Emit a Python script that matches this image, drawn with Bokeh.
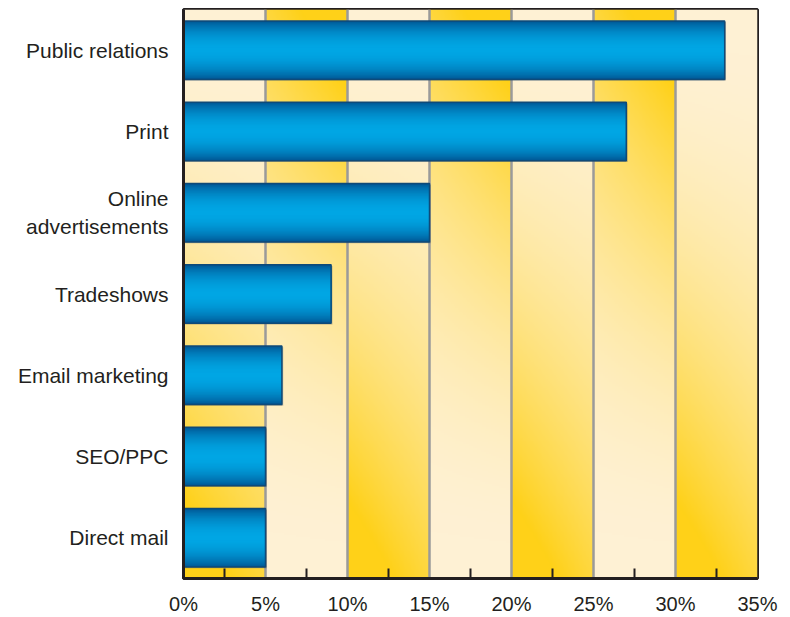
import numpy as np
from bokeh.plotting import figure
from bokeh.models import FactorRange, Range1d, FixedTicker, ColumnDataSource
from bokeh.transform import dodge
from bokeh.embed import file_html
from bokeh.resources import INLINE

# ---- data ----
categories = ["Public relations", "Print", "Online\nadvertisements", "Tradeshows",
              "Email marketing", "SEO/PPC", "Direct mail"]
values = [33, 27, 15, 9, 6, 5, 5]
x_ticks = [0, 5, 10, 15, 20, 25, 30, 35]
x_tick_labels = ["0%", "5%", "10%", "15%", "20%", "25%", "30%", "35%"]
minor_ticks = [2.5, 7.5, 12.5, 17.5, 22.5, 27.5, 32.5]

factors = list(reversed(categories))
XMAX = 35

p = figure(width=790, height=617, output_backend="svg", toolbar_location=None,
           y_range=FactorRange(factors=factors, range_padding=0),
           x_range=Range1d(0, XMAX),
           min_border_left=183, min_border_right=33, min_border_top=9, min_border_bottom=37)
p.background_fill_color = "white"
p.border_fill_color = "white"
p.outline_line_color = "#231f20"
p.outline_line_width = 3

# ---- background gradient (style) ----
band_px = 60
H = 300
W = band_px * 7
img = np.zeros((H, W), dtype=np.uint32)
view = img.view(dtype=np.uint8).reshape((H, W, 4))
cream = np.array([254, 241, 212], dtype=float)
yellow = np.array([255, 209, 24], dtype=float)
vv = (np.arange(H) + 0.5) / H          # 0 bottom, 1 top
for k in range(7):
    u = (np.arange(band_px) + 0.5) / band_px
    U, V = np.meshgrid(u, vv)
    if k % 2 == 0:
        s = (1 - V) * 1.1 - 0.08 + (0.5 - U) * 0.3 * (1 - V)
    else:
        s = V * 1.1 - 0.08 + (U - 0.5) * 0.3 * V
    s = np.clip(s, 0, 1) ** 1.6
    col = cream[None, None, :] * (1 - s[..., None]) + yellow[None, None, :] * s[..., None]
    view[:, k * band_px:(k + 1) * band_px, 0:3] = col.astype(np.uint8)
    view[:, k * band_px:(k + 1) * band_px, 3] = 255
bg = p.image_rgba(image=[img], x=0, y=0, dw=XMAX, dh=len(categories))
bg.level = "image"

# ---- grid ----
p.xgrid.ticker = FixedTicker(ticks=x_ticks)
p.xgrid.grid_line_color = "#9a9a9a"
p.xgrid.grid_line_width = 2.5
p.ygrid.grid_line_color = None

# ---- bars ----
src = ColumnDataSource(dict(cat=categories, val=values))
BAR_H = 0.72
N = 40
dark = np.array([0, 84, 146], dtype=float)
light = np.array([0, 166, 228], dtype=float)

# shadow
p.hbar(y=dodge("cat", -0.015, range=p.y_range), left=0.1, right=dodge("val", 0.08), height=BAR_H,
       source=src, fill_color="#555555", fill_alpha=0.4, line_color=None)
# concentric bars: outer (dark) to inner (light)
for j in range(N):
    frac = 1 - j / N          # relative height
    pos = (1 - frac) / 2      # distance from edge, 0..0.5
    f = np.sin(np.pi * pos) ** 0.75
    c = dark * (1 - f) + light * f
    color = "#%02x%02x%02x" % tuple(int(round(x)) for x in c)
    p.hbar(y="cat", left=0, right="val", height=BAR_H * frac,
           source=src, fill_color=color, line_color=None)
p.hbar(y="cat", left=0, right="val", height=BAR_H, source=src,
       fill_color=None, line_color="#0f4a78", line_width=1.5)

# ---- axes ----
xa = p.xaxis[0]
xa.ticker = FixedTicker(ticks=x_ticks, minor_ticks=minor_ticks)
xa.major_label_overrides = {t: l for t, l in zip(x_ticks, x_tick_labels)}
xa.major_tick_in = 0
xa.major_tick_out = 0
xa.minor_tick_in = 10
xa.minor_tick_out = 0
xa.minor_tick_line_color = "#231f20"
xa.minor_tick_line_width = 2
xa.axis_line_color = "#231f20"
xa.axis_line_width = 3
xa.major_label_text_font = "Liberation Sans"
xa.major_label_text_font_size = "20px"
xa.major_label_text_color = "#231f20"
xa.major_label_standoff = 14

ya = p.yaxis[0]
ya.major_tick_line_color = None
ya.minor_tick_line_color = None
ya.axis_line_color = "#231f20"
ya.axis_line_width = 3
ya.major_label_text_font = "Liberation Sans"
ya.major_label_text_font_size = "21px"
ya.major_label_text_color = "#231f20"
ya.major_label_standoff = 9

open("out.html", "w").write(file_html(p, INLINE))
